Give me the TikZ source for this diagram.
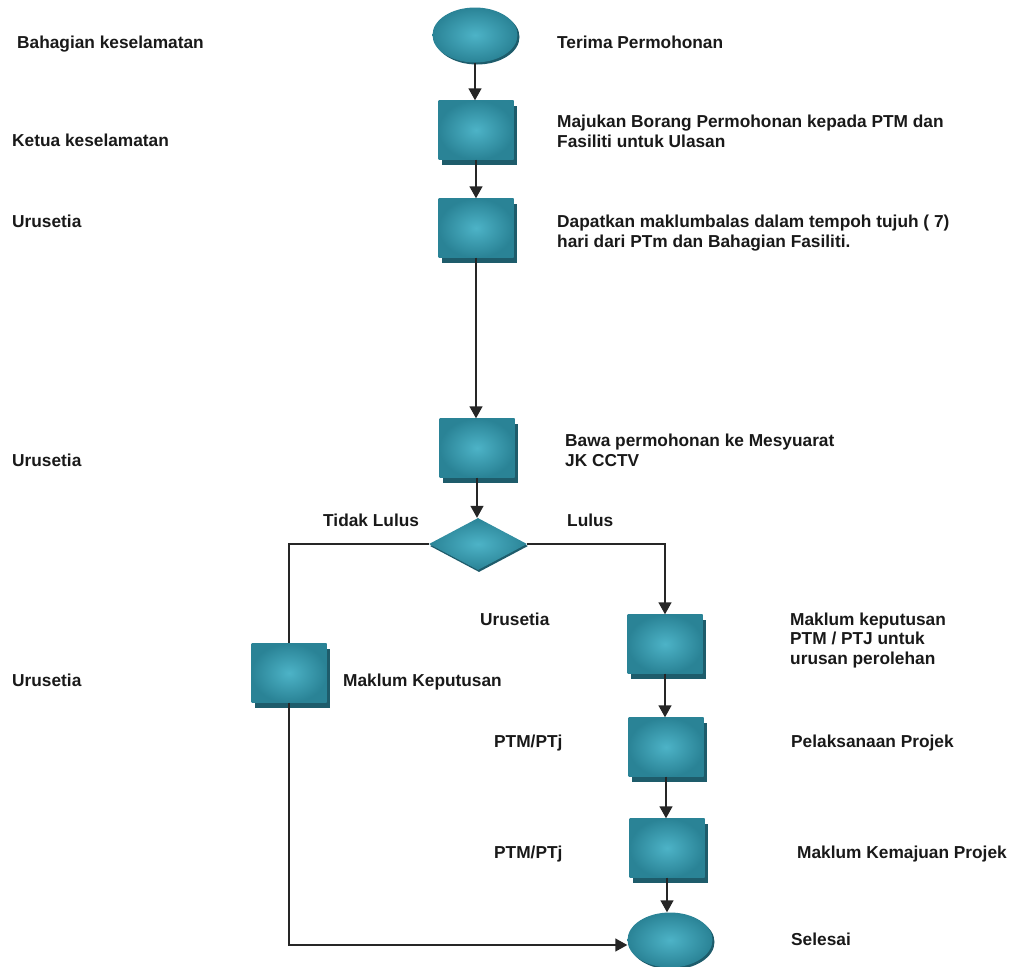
\documentclass[tikz,border=0pt]{standalone}
\usepackage{fontspec}
\setmainfont{Liberation Sans}
\usetikzlibrary{shapes.geometric,shadows,arrows.meta}

\definecolor{tealedge}{HTML}{2A8396}
\definecolor{tealmid}{HTML}{4DB3C7}
\definecolor{tealshade}{HTML}{1E5C6B}

\tikzset{
    stepbox/.style={rectangle, minimum width=75pt, minimum height=59pt, inner sep=0pt,
        inner color=tealmid, outer color=tealedge,
        drop shadow={shadow xshift=3pt, shadow yshift=-5pt, fill=tealshade, opacity=1}},
    terminal/.style={ellipse, minimum width=85pt, minimum height=55pt, inner sep=0pt,
        inner color=tealmid, outer color=tealedge,
        drop shadow={shadow xshift=2pt, shadow yshift=-2pt, fill=tealshade, opacity=1}},
    choice/.style={diamond, minimum width=98pt, minimum height=52pt, inner sep=0pt,
        inner color=tealmid, outer color=tealedge,
        drop shadow={shadow xshift=1pt, shadow yshift=-2pt, fill=tealshade, opacity=1}},
    txt/.style={anchor=base west, inner sep=0pt, align=left, text=black!90,
        font=\bfseries\fontsize{17.3}{19.5}\selectfont},
    link/.style={line width=1.4pt, black!85},
    flow/.style={link, -{Triangle[width=13pt,length=12pt]}}
}

\begin{document}
\begin{tikzpicture}[x=1pt, y=-1pt]
    \useasboundingbox (0,0) rectangle (1013,967);

    % shapes of the flow
    \node[terminal] (start) at (475,35) {};
    \node[stepbox] (forward) at (476,130) {};
    \node[stepbox] (feedback) at (476,228) {};
    \node[stepbox] (meeting) at (477,448) {};
    \node[choice] (decide) at (478,544) {};
    \node[stepbox] (notifyL) at (289,673) {};
    \node[stepbox] (notify) at (665,644) {};
    \node[stepbox] (exec) at (666,747) {};
    \node[stepbox] (progress) at (667,848) {};
    \node[terminal] (finish) at (670,940) {};

    % connectors
    \foreach \a/\b in {start/forward, forward/feedback, feedback/meeting, meeting/decide,
                       notify/exec, exec/progress} {
        \draw[flow] (\a.south) -- (\a.south |- \b.north);
    }
    \draw[flow] (progress.south) -- (progress.south |- finish.north);
    \draw[link] (decide.west) -| (notifyL.north);
    \draw[flow] (notifyL.south) |- ([yshift=-5pt]finish.west);
    \draw[flow] (decide.east) -| (notify.north);

    % who does it
    \node[txt] (roleA) at (17,48) {Bahagian keselamatan};
    \node[txt] (roleB) at (12,146) {Ketua keselamatan};
    \node[txt] (roleC) at (12,227) {Urusetia};
    \node[txt] (roleD) at (12,466) {Urusetia};
    \node[txt] (roleE) at (480,625) {Urusetia};
    \node[txt] (roleF) at (12,686) {Urusetia};
    \node[txt] (roleG) at (494,747) {PTM/PTj};
    \node[txt] (roleH) at (494,858) {PTM/PTj};

    % what is done
    \node[txt] (taskA) at (557,48) {Terima Permohonan};
    \node[txt] (taskB) at (557,147) {Majukan Borang Permohonan kepada PTM dan\\Fasiliti untuk Ulasan};
    \node[txt] (taskC) at (557,247) {Dapatkan maklumbalas dalam tempoh tujuh ( 7)\\hari dari PTm dan Bahagian Fasiliti.};
    \node[txt] (taskD) at (565,466) {Bawa permohonan ke Mesyuarat\\JK CCTV};
    \node[txt] (no) at (323,526) {Tidak Lulus};
    \node[txt] (yes) at (567,526) {Lulus};
    \node[txt] (taskE) at (790,664) {Maklum keputusan\\PTM / PTJ untuk\\urusan perolehan};
    \node[txt] (taskF) at (343,686) {Maklum Keputusan};
    \node[txt] (taskG) at (791,747) {Pelaksanaan Projek};
    \node[txt] (taskH) at (797,858) {Maklum Kemajuan Projek};
    \node[txt] (taskI) at (791,945) {Selesai};
\end{tikzpicture}
\end{document}
